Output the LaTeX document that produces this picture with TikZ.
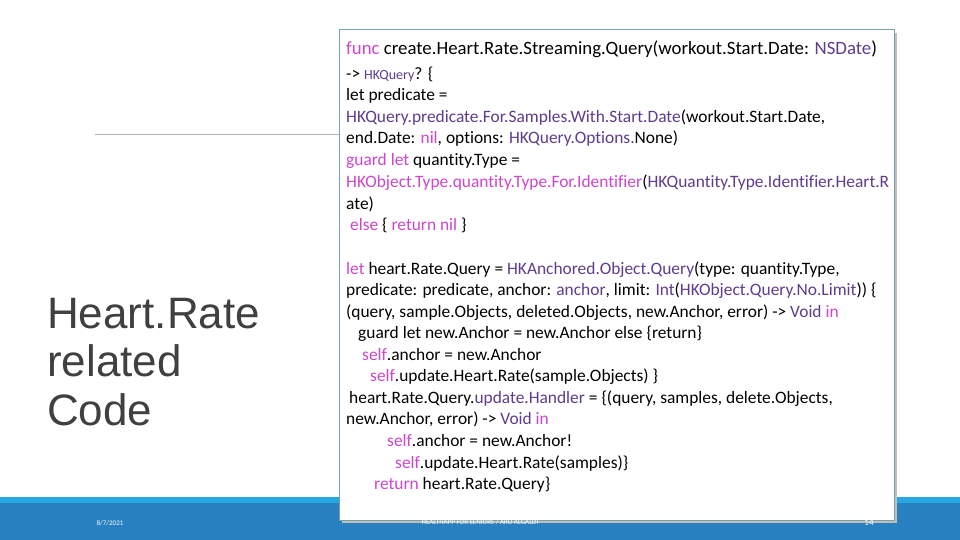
\documentclass[tikz,border=0pt]{standalone}
\usepackage{fontspec}
\setmainfont{Carlito}[Ligatures=NoCommon]
\newfontfamily\titlefont{Liberation Sans}
\definecolor{kw}{RGB}{205,70,205}
\definecolor{ty}{RGB}{95,60,140}
\definecolor{barblue}{RGB}{40,128,192}
\definecolor{barlight}{RGB}{40,168,224}
\definecolor{boxedge}{RGB}{120,160,168}
\newcommand{\K}[1]{\textcolor{kw}{#1}}
\newcommand{\T}[1]{\textcolor{ty}{#1}}
\begin{document}
\begin{tikzpicture}[x=1pt,y=-1pt,
  cl/.style={anchor=base west,inner sep=0pt,font=\fontsize{17.4}{19}\selectfont},
  tt/.style={anchor=base west,inner sep=0pt,text=black!75,font=\titlefont\fontsize{44}{50}\selectfont},
  foot/.style={inner sep=0pt,text=white,font=\fontsize{7}{8}\selectfont}]
\useasboundingbox (0,0) rectangle (960,540);
\fill[white] (0,0) rectangle (960,540);
\fill[barlight] (0,497) rectangle (960,503);
\fill[barblue] (0,503) rectangle (960,540);
\draw[gray!60,line width=1pt] (95,135) -- (340,135);
\node[tt] (title) at (47,328) {Heart.Rate};
\node[tt] (t2) at (47,376) {related};
\node[tt] (t3) at (47,425) {Code};
\node[foot] (date) at (110,523) {8/7/2021};
\fill[black!25] (342,33) rectangle (897,523);
\draw[boxedge,fill=white,line width=1pt] (339,30) rectangle (894,520);
\node[foot] (ft) at (480,522) {HEALTHAPP FOR SENIORS / ARU ALGALDI};
\node[foot,font=\fontsize{9}{10}\selectfont] (pg) at (869,523) {14};
\begin{scope}[yshift=-2pt]
\node[cl,font=\fontsize{18.8}{20}\selectfont] (l1) at (346,53) {\K{func} create.Heart.Rate.Streaming.Query(workout.Start.Date: \T{NSDate})};
\node[cl] (l2) at (346,78) {-> {\fontsize{14}{16}\selectfont\T{HKQuery}}? \{};
\node[cl] (l3) at (346,99) {let predicate =};
\node[cl] (l4) at (346,121) {\T{HKQuery.predicate.For.Samples.With.Start.Date}(workout.Start.Date,};
\node[cl] (l5) at (346,142) {end.Date: \K{nil}, options: \T{HKQuery.Options.}None)};
\node[cl] (l6) at (346,164) {\K{guard let} quantity.Type =};
\node[cl] (l7) at (346,185) {\K{HKObject.Type.quantity.Type.For.Identifier}(\T{HKQuantity.Type.Identifier.Heart.R}};
\node[cl] (l8) at (346,207) {ate)};
\node[cl] (l9) at (346,228) {\ \K{else} \{ \K{return nil} \}};
\node[cl] (m1) at (346,272) {\K{let} heart.Rate.Query = \T{HKAnchored.Object.Query}(type: quantity.Type,};
\node[cl] (m2) at (346,293) {predicate: predicate, anchor: \T{anchor}, limit: \T{Int}(\T{HKObject.Query.No.Limit})) \{};
\node[cl] (m3) at (346,315) {(query, sample.Objects, deleted.Objects, new.Anchor, error) -> \T{Void} \K{in}};
\node[cl] (m4) at (358,336) {guard let new.Anchor = new.Anchor else \{return\}};
\node[cl] (m5) at (362,358) {\K{self}.anchor = new.Anchor};
\node[cl] (m6) at (370,379) {\K{self}.update.Heart.Rate(sample.Objects) \}};
\node[cl] (m7) at (349,401) {heart.Rate.Query.\T{update.Handler} = \{(query, samples, delete.Objects,};
\node[cl] (m8) at (346,422) {new.Anchor, error) -> \T{Void} \K{in}};
\node[cl] (m9) at (387,444) {\K{self}.anchor = new.Anchor!};
\node[cl] (m10) at (395,466) {\K{self}.update.Heart.Rate(samples)\}};
\node[cl] (m11) at (374,487) {\K{return} heart.Rate.Query\}};
\end{scope}
\end{tikzpicture}
\end{document}
